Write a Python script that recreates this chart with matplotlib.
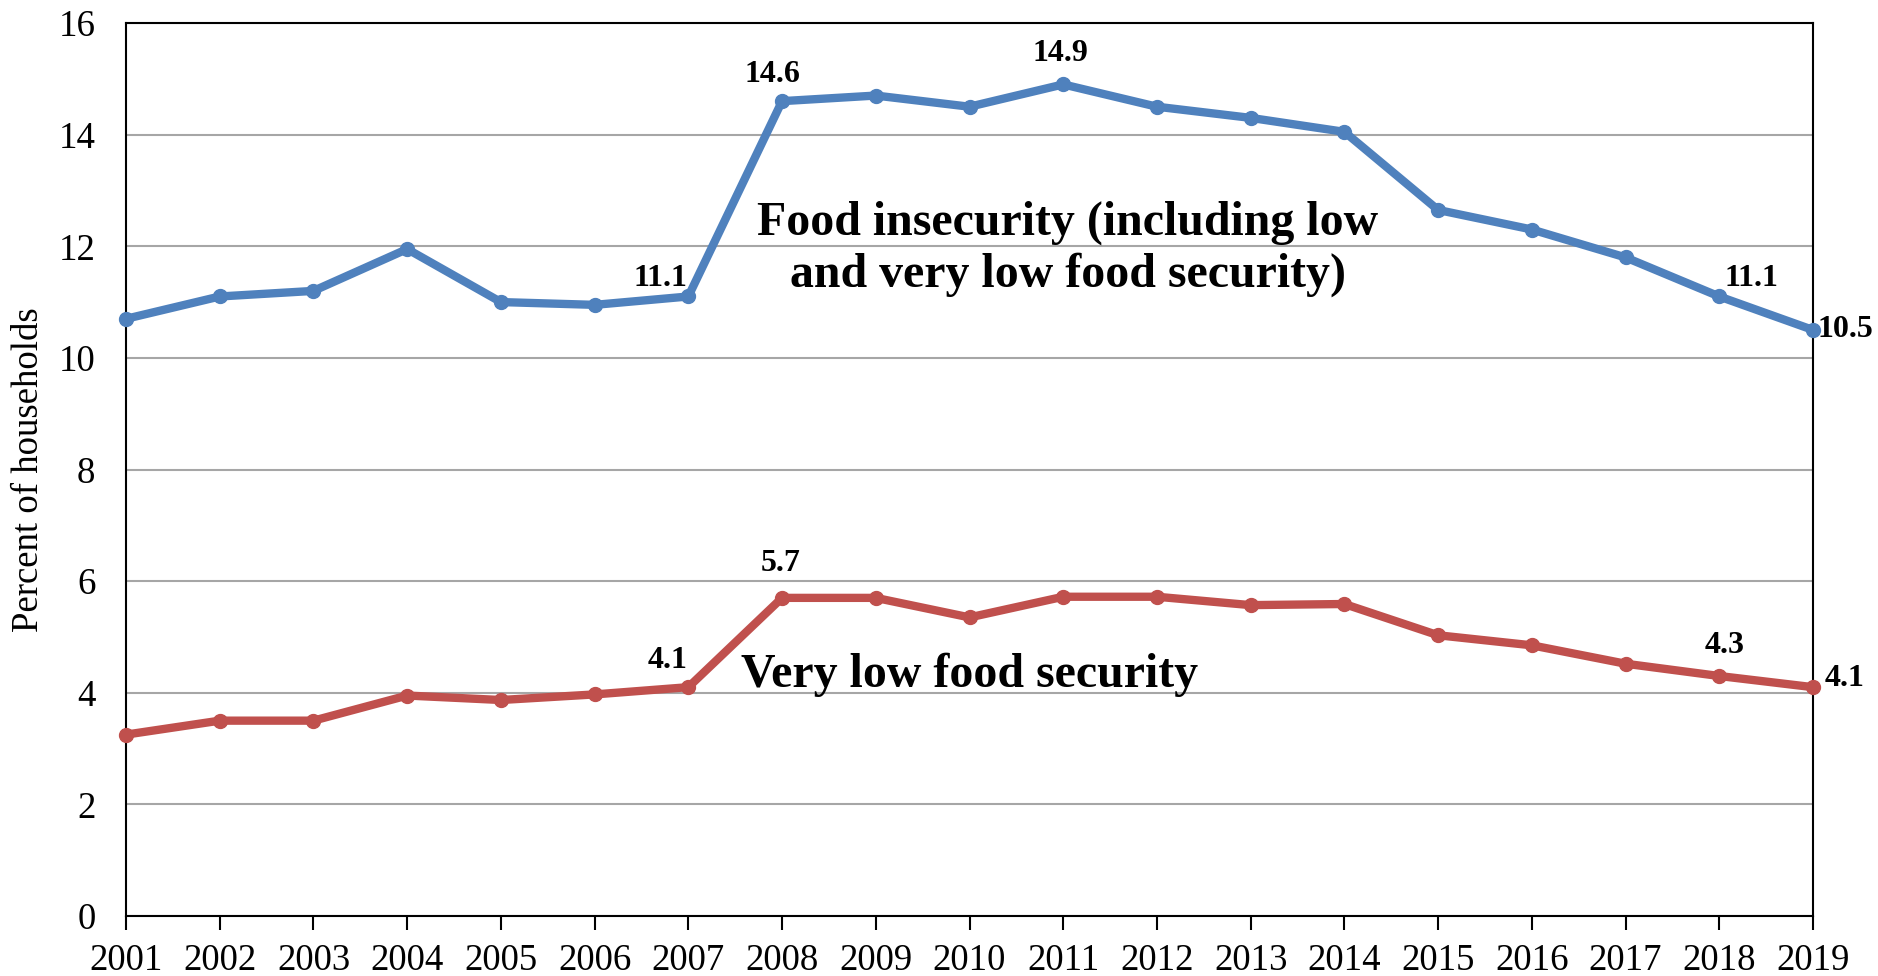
import numpy as np
import matplotlib.pyplot as plt

# Anos e percentuais de domicílios
years = list(range(2001, 2020))
food_insecure = [10.7, 11.1, 11.2, 11.95, 11.0, 10.95, 11.1, 14.6, 14.7, 14.5,
                 14.9, 14.5, 14.3, 14.05, 12.65, 12.3, 11.8, 11.1, 10.5]
very_low = [3.25, 3.5, 3.5, 3.95, 3.87, 3.97, 4.1, 5.7, 5.7, 5.35,
            5.72, 5.72, 5.57, 5.59, 5.03, 4.85, 4.52, 4.3, 4.1]

# Rótulos de valor: (ano, deslocamento em pontos)
labels_fi = {2007: (-20, 13), 2008: (-7, 19), 2011: (-2, 22), 2018: (23, 13), 2019: (23, 0)}
labels_vl = {2007: (-15, 19), 2008: (-1, 25), 2018: (4, 22), 2019: (23, 6)}

blue = '#4F81BD'
red = '#C0504D'

plt.rcParams['font.family'] = ['Liberation Serif', 'DejaVu Serif']

fig = plt.figure(figsize=(18.78, 9.76), dpi=100)
ax = fig.add_axes([126/1878, 60/976, (1813-126)/1878, (916-23)/976])

ax.plot(years, food_insecure, '-o', color=blue, lw=6, ms=10, clip_on=False, zorder=3)
ax.plot(years, very_low, '-o', color=red, lw=6, ms=10, clip_on=False, zorder=3)

for yr, (dx, dy) in labels_fi.items():
    v = food_insecure[years.index(yr)]
    ax.annotate(f'{v:.1f}', (yr, v), xytext=(dx, dy), textcoords='offset points',
                ha='center', va='center', fontsize=23, fontweight='bold')
for yr, (dx, dy) in labels_vl.items():
    v = very_low[years.index(yr)]
    ax.annotate(f'{v:.1f}', (yr, v), xytext=(dx, dy), textcoords='offset points',
                ha='center', va='center', fontsize=23, fontweight='bold')

ax.text(2011.05, 11.95, 'Food insecurity (including low\nand very low food security)',
        ha='center', va='center', fontsize=34.5, fontweight='bold', linespacing=1.2)
ax.text(2010.0, 4.33, 'Very low food security', ha='center', va='center',
        fontsize=34.5, fontweight='bold')

ax.set_xlim(2001, 2019)
ax.set_ylim(0, 16)
ax.set_xticks(years)
ax.set_yticks(np.arange(0, 17, 2))
ax.yaxis.grid(True, color='#A6A6A6', lw=1.5)
ax.set_axisbelow(True)
ax.tick_params(axis='x', direction='out', length=10, width=1.5, labelsize=26.5, pad=10)
ax.tick_params(axis='y', length=0, labelsize=26.5, pad=22)
for s in ax.spines.values():
    s.set_linewidth(1.5)
    s.set_color('black')

ax.set_ylabel('Percent of households', fontsize=26.5, labelpad=9)

plt.savefig('out.png', dpi=100)
